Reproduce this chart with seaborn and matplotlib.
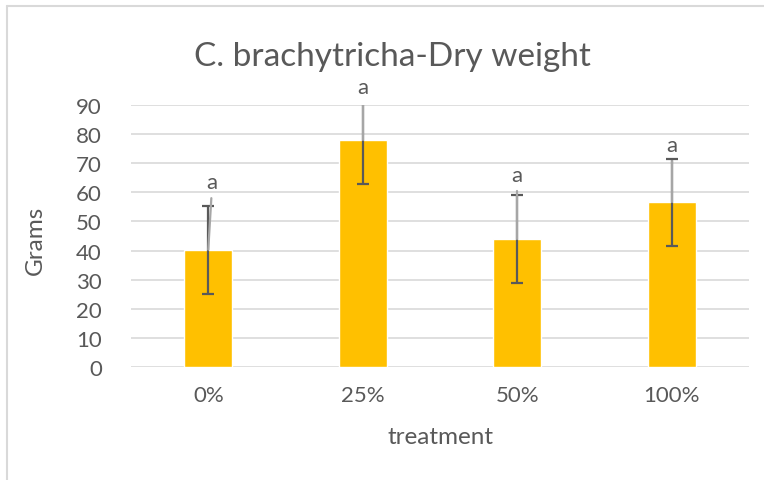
import matplotlib
matplotlib.use("Agg")
import matplotlib.pyplot as plt
import seaborn as sns
import pandas as pd
from matplotlib.lines import Line2D

# Data
treatments = ["0%", "25%", "50%", "100%"]
dry_weight = [40.3, 78.0, 43.9, 56.6]
std_err = [15.1, 15.1, 15.1, 15.0]
letters = ["a", "a", "a", "a"]
letter_y = [63.5, 96.2, 66.0, 76.3]
letter_dx = [0.02, 0.0, 0.0, 0.0]

df = pd.DataFrame({"treatment": treatments, "grams": dry_weight})

sns.set_theme(style="white")
plt.rcParams["font.family"] = ["Lato", "DejaVu Sans"]

text_col = "#595959"
fig = plt.figure(figsize=(7.64, 4.81), dpi=100)
ax = fig.add_axes([131 / 764, 1 - 368 / 481, 618 / 764, 262 / 481])

sns.barplot(data=df, x="treatment", y="grams", color="#FFC000",
            saturation=1, width=0.31, errorbar=None, ax=ax, zorder=2)

x = range(len(treatments))
ax.errorbar(x, dry_weight, yerr=std_err, fmt="none", ecolor="#595959",
            elinewidth=1.6, capsize=4.5, capthick=1.6, zorder=3)

# data labels with leader lines
for i in x:
    ax.plot([i + letter_dx[i], i], [letter_y[i] - 5.5, dry_weight[i]],
            color="#A6A6A6", lw=1.6, zorder=4)
    ax.text(i + letter_dx[i], letter_y[i], letters[i], ha="center",
            va="center", fontsize=16, color=text_col, clip_on=False)

ax.set_ylim(0, 90)
ax.set_xlim(-0.5, 3.5)
ax.set_yticks(range(0, 91, 10))
ax.yaxis.grid(True, color="#D9D9D9", lw=1.2, zorder=0)
ax.set_axisbelow(True)
for s in ax.spines.values():
    s.set_visible(False)
ax.tick_params(axis="both", length=0, labelsize=16, labelcolor=text_col)
ax.tick_params(axis="y", pad=21)
ax.tick_params(axis="x", pad=13)
ax.set_xlabel("")
ax.set_ylabel("")

fig.text(440 / 764, 1 - 438 / 481, "treatment", ha="center", va="center",
         fontsize=17.5, color=text_col)
fig.text(35 / 764, 1 - 240 / 481, "Grams", ha="center", va="center",
         rotation=90, fontsize=17.5, color=text_col)
fig.text(392 / 764, 1 - 57 / 481, "C. brachytricha-Dry weight", ha="center",
         va="center", fontsize=24, color=text_col)

# chart area border (left and top edges visible)
fig.add_artist(Line2D([7 / 764, 7 / 764], [0, 1 - 7 / 481],
                      transform=fig.transFigure, color="#D9D9D9", lw=1.5))
fig.add_artist(Line2D([7 / 764, 1], [1 - 7 / 481, 1 - 7 / 481],
                      transform=fig.transFigure, color="#D9D9D9", lw=1.5))

fig.savefig("out.png", dpi=100, facecolor="white")
